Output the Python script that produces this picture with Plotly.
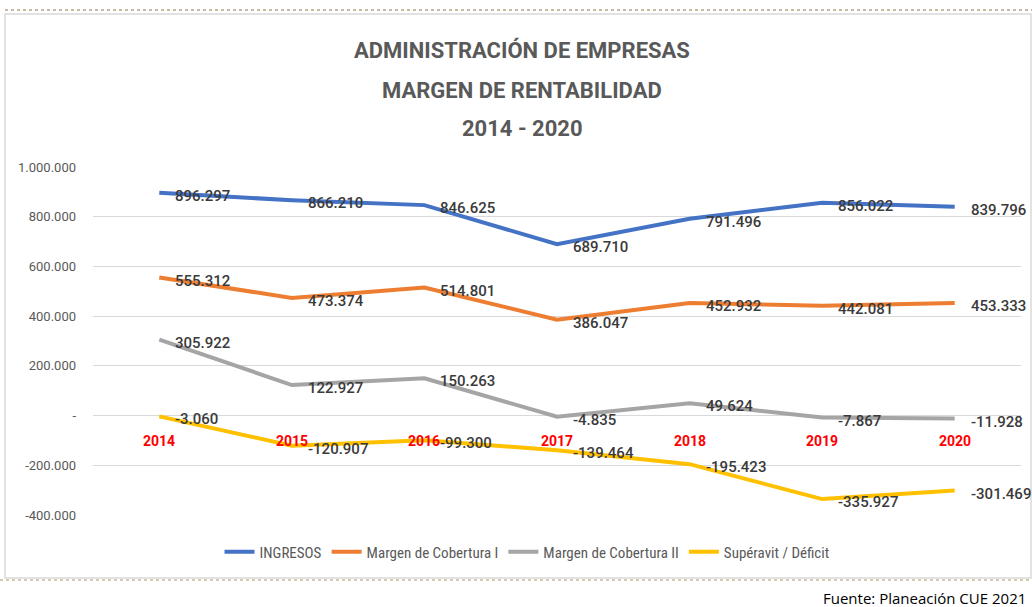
import plotly.graph_objects as go

years = ["2014", "2015", "2016", "2017", "2018", "2019", "2020"]
ingresos = [896297, 866210, 846625, 689710, 791496, 856022, 839796]
margen_1 = [555312, 473374, 514801, 386047, 452932, 442081, 453333]
margen_2 = [305922, 122927, 150263, -4835, 49624, -7867, -11928]
superavit = [-3060, -120907, -99300, -139464, -195423, -335927, -301469]

series_names = ["INGRESOS", "Margen de Cobertura I", "Margen de Cobertura II", "Supéravit / Déficit"]
series_values = [ingresos, margen_1, margen_2, superavit]
series_colors = ["#4472C4", "#ED7D31", "#A5A5A5", "#FFC000"]

y_tickvals = [-400000, -200000, 0, 200000, 400000, 600000, 800000, 1000000]
y_ticktext = ["-400.000", "-200.000", "-", "200.000", "400.000", "600.000", "800.000", "1.000.000"]

title_lines = ["ADMINISTRACIÓN DE EMPRESAS", "MARGEN DE RENTABILIDAD", "2014 - 2020"]
source_text = "Fuente: Planeación CUE 2021"


def fmt(v):
    s = f"{abs(v):,}".replace(",", ".")
    return ("-" if v < 0 else "") + s


# page geometry helpers (plot area: x 93..1021, y 167..515)
L, R, T, B = 93, 1021, 167, 515
W, H = R - L, B - T


def px(x):
    return (x - L) / W


def py(y):
    return (B - y) / H


fig = go.Figure()
for name, vals, col in zip(series_names, series_values, series_colors):
    fig.add_trace(go.Scatter(
        x=years, y=vals, name=name, mode="lines",
        line=dict(color=col, width=4),
    ))

annotations = []
# data labels
for vals in series_values:
    for i, v in enumerate(vals):
        annotations.append(dict(
            x=i, y=v, xref="x", yref="y", text=fmt(v), showarrow=False,
            xanchor="left", yanchor="middle", xshift=14, yshift=-3,
            font=dict(family="Roboto, Arial", size=15, color="#3A3A3A", weight=500),
        ))
# red category labels along zero line
for i, yr in enumerate(years):
    annotations.append(dict(
        x=i, y=0, xref="x", yref="y", text="<b>" + yr + "</b>", showarrow=False,
        xanchor="center", yanchor="middle", yshift=-25,
        font=dict(family="Roboto, Arial", size=14, color="#FF0000"),
    ))
# title lines
for line, yy in zip(title_lines, [50, 90, 128]):
    annotations.append(dict(
        x=px(522), y=py(yy), xref="paper", yref="paper", text="<b>" + line + "</b>",
        showarrow=False, xanchor="center", yanchor="middle",
        font=dict(family="Roboto, Arial", size=22, color="#595959"),
    ))
# source
annotations.append(dict(
    x=px(1028), y=py(598), xref="paper", yref="paper", text=source_text,
    showarrow=False, xanchor="right", yanchor="middle",
    font=dict(family="Open Sans, Arial", size=15, color="#000000"),
))

shapes = [
    dict(type="rect", xref="paper", yref="paper", x0=px(5), x1=px(1031), y0=py(578), y1=py(14),
         line=dict(color="#D9D9D9", width=1.5), fillcolor="rgba(0,0,0,0)", layer="below"),
    dict(type="line", xref="paper", yref="paper", x0=px(5), x1=px(1032), y0=py(10), y1=py(10),
         line=dict(color="#C8B8A4", width=2, dash="dot")),
    dict(type="line", xref="paper", yref="paper", x0=px(0), x1=px(1032), y0=py(580), y1=py(580),
         line=dict(color="#D8C8B4", width=2, dash="dot")),
]

fig.update_layout(
    width=1032, height=607,
    margin=dict(l=L, r=1032 - R, t=T, b=607 - B, pad=0),
    paper_bgcolor="white", plot_bgcolor="white",
    showlegend=True,
    legend=dict(orientation="h", x=px(527), y=py(552), xanchor="center", yanchor="middle",
                font=dict(family="Liberation Sans Narrow, Roboto Condensed, Roboto", size=15, color="#595959"),
                bgcolor="rgba(0,0,0,0)"),
    xaxis=dict(type="category", range=[-0.5, 6.5], showticklabels=False, showgrid=False,
               zeroline=False, showline=False, ticks=""),
    yaxis=dict(range=[-400000, 1000000], tickvals=y_tickvals, ticktext=y_ticktext,
               showgrid=True, gridcolor="#D9D9D9", gridwidth=1, zeroline=False,
               showline=False, ticks="", ticklabelstandoff=16,
               tickfont=dict(family="Roboto, Arial", size=13, color="#595959")),
    annotations=annotations,
    shapes=shapes,
)

fig.write_html("out.html", config={"displayModeBar": False},
               post_script="document.body.style.margin='0';document.body.style.overflow='hidden';")
